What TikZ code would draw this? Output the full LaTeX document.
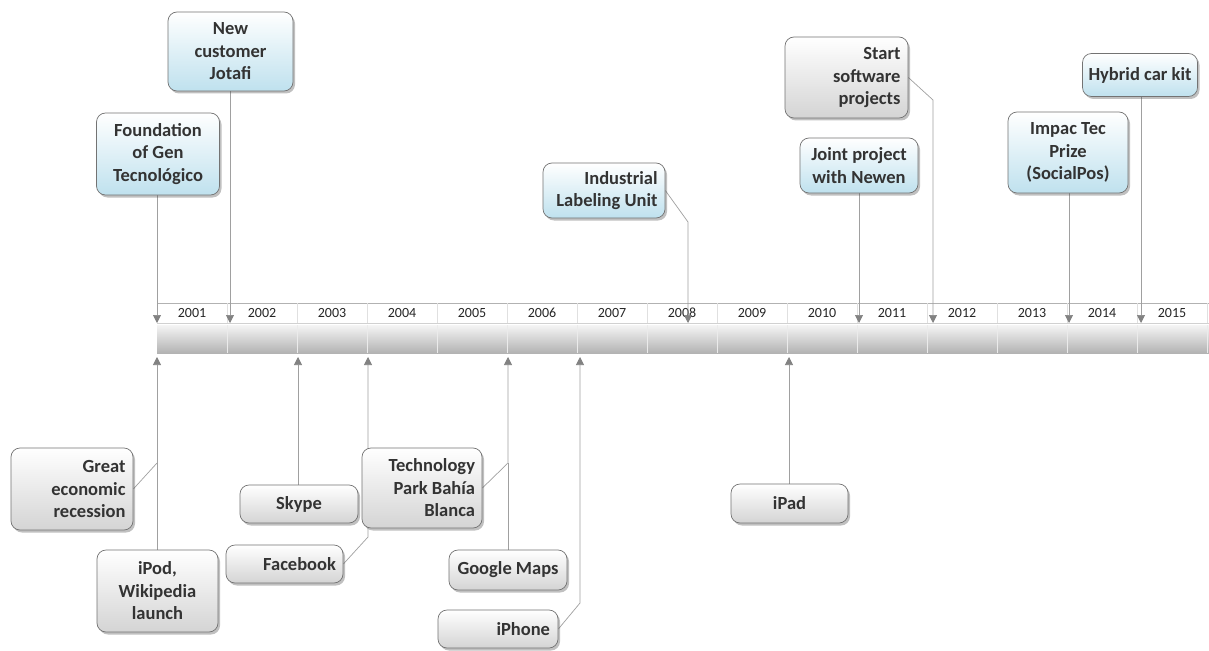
\documentclass[tikz,border=0pt]{standalone}
\usepackage{fontspec}
\setmainfont{Carlito}
\usetikzlibrary{shadows,arrows.meta,backgrounds}
\definecolor{boxblue}{HTML}{BFE1EE}
\definecolor{boxgrey}{HTML}{D4D4D4}
\definecolor{txt}{HTML}{333333}
\definecolor{linegrey}{HTML}{A0A0A0}
\definecolor{arrowgrey}{HTML}{828282}
\newcommand{\evfont}{\fontsize{18.5}{22.5}\selectfont\bfseries}
\newcommand{\yrfont}{\fontsize{14}{15}\selectfont}
\pgfdeclarelayer{mid}
\pgfsetlayers{background,mid,main}
\tikzset{
  evbox/.style={draw=black!55, line width=0.7pt, rounded corners=9pt, inner sep=0pt,
    font=\evfont, text=txt,
    drop shadow={shadow xshift=2pt, shadow yshift=-2.5pt, opacity=0.35, fill=black!70}},
  bluebox/.style={evbox, top color=white, bottom color=boxblue},
  greybox/.style={evbox, top color=white, bottom color=boxgrey},
  conn/.style={draw=linegrey, line width=0.7pt},
  tipped/.style={conn, -{Triangle[width=8pt,length=8pt,color=arrowgrey]}},
  yearlbl/.style={font=\yrfont, text=black!85, inner sep=0pt}
}
\begin{document}
\begin{tikzpicture}[x=1pt,y=-1pt]
\useasboundingbox (0,0) rectangle (1209,650);

% ---- timeline ----
\begin{pgfonlayer}{background}
\fill[white] (0,0) rectangle (1209,650);
\shade[top color=black!4, bottom color=black!30] (157,325) rectangle (1209,353);
\draw[black!30, line width=0.6pt] (157,303) -- (1209,303);
\draw[black!18, line width=0.6pt] (157,323) -- (1209,323);
\foreach \i in {1,...,15}{
  \draw[black!12, line width=0.6pt] (157+70*\i,303) -- (157+70*\i,323);
  \draw[white!92!black, line width=1pt] (157+70*\i,325) -- (157+70*\i,353);
}
\foreach \i in {0,...,14}{
  \pgfmathtruncatemacro{\yr}{2001+\i}
  \node[yearlbl] (y\i) at (192+70*\i,313) {\yr};
}
\end{pgfonlayer}

% ---- connector end points ----
\coordinate (tipFound) at (157,323);
\coordinate (tipJotafi) at (230,323);
\coordinate (bendInd) at (688,222);
\coordinate (tipInd) at (688,323);
\coordinate (bendStart) at (933,100);
\coordinate (tipStart) at (933,323);
\coordinate (tipJoint) at (859,323);
\coordinate (tipImpac) at (1069,323);
\coordinate (tipHybrid) at (1141,323);
\coordinate (tipIpod) at (157,357);
\coordinate (bendGreat) at (157,463);
\coordinate (tipSkype) at (298,357);
\coordinate (tipFb) at (368,357);
\coordinate (bendFb) at (368,537);
\coordinate (tipTech) at (508,357);
\coordinate (bendTech) at (508,463);
\coordinate (tipIphone) at (580,357);
\coordinate (bendIphone) at (580,603);
\coordinate (tipIpad) at (789,357);

% ---- boxes (top) ----
\node[bluebox, minimum width=125pt, minimum height=79pt, text width=119pt, align=flush center] (jotafi) at (230.5,51.5) {New\\customer\\Jotafi};
\node[bluebox, minimum width=123pt, minimum height=82pt, text width=117pt, align=flush center] (found) at (158,154) {Foundation\\of Gen\\Tecnológico};
\node[bluebox, minimum width=122pt, minimum height=55pt, text width=107pt, align=flush right] (indust) at (604,190.5) {Industrial\\Labeling Unit};
\node[greybox, minimum width=123pt, minimum height=81pt, text width=108pt, align=flush right] (start) at (846.5,77.5) {Start\\software\\projects};
\node[bluebox, minimum width=118pt, minimum height=55pt, text width=112pt, align=flush center] (joint) at (859,165.5) {Joint project\\with Newen};
\node[bluebox, minimum width=120pt, minimum height=81pt, text width=114pt, align=flush center] (impac) at (1068,152.5) {Impac Tec\\Prize\\(SocialPos)};
\node[bluebox, minimum width=115pt, minimum height=43pt, text width=112pt, align=flush center] (hybrid) at (1140,75) {Hybrid car kit};

% ---- boxes (bottom) ----
\node[greybox, minimum width=122pt, minimum height=82pt, text width=107pt, align=flush right] (great) at (72,489) {Great\\economic\\recession};
\node[greybox, minimum width=121pt, minimum height=82pt, text width=115pt, align=flush center] (ipod) at (157.5,591) {iPod,\\Wikipedia\\launch};
\node[greybox, minimum width=118pt, minimum height=38pt, text width=112pt, align=flush center] (skype) at (299,504) {Skype};
\node[greybox, minimum width=117pt, minimum height=38pt, text width=103pt, align=flush right] (fb) at (284.5,564) {Facebook};
\node[greybox, minimum width=120pt, minimum height=80pt, text width=106pt, align=flush right] (tech) at (422,488) {Technology\\Park Bahía\\Blanca};
\node[greybox, minimum width=118pt, minimum height=40pt, text width=112pt, align=flush center] (gmaps) at (508,570) {Google Maps};
\node[greybox, minimum width=120pt, minimum height=38pt, text width=104pt, align=flush right] (iphone) at (498,629) {iPhone};
\node[greybox, minimum width=117pt, minimum height=39pt, text width=111pt, align=flush center] (ipad) at (789.5,503.5) {iPad};

% ---- connectors (behind boxes) ----
\begin{pgfonlayer}{mid}
\draw[tipped] (tipFound |- found.south) -- (tipFound);
\draw[tipped] (tipJotafi |- jotafi.south) -- (tipJotafi);
\draw[tipped] (indust.east) -- (bendInd) -- (tipInd);
\draw[tipped] (start.east) -- (bendStart) -- (tipStart);
\draw[tipped] (tipJoint |- joint.south) -- (tipJoint);
\draw[tipped] (tipImpac |- impac.south) -- (tipImpac);
\draw[tipped] (tipHybrid |- hybrid.south) -- (tipHybrid);
\draw[conn] (great.east) -- (bendGreat);
\draw[tipped] (tipIpod |- ipod.north) -- (tipIpod);
\draw[tipped] (tipSkype |- skype.north) -- (tipSkype);
\draw[tipped] (fb.east) -- (bendFb) -- (tipFb);
\draw[tipped] (tech.east) -- (bendTech) -- (tipTech);
\draw[conn] (tipTech |- gmaps.north) -- (bendTech);
\draw[tipped] (iphone.east) -- (bendIphone) -- (tipIphone);
\draw[tipped] (tipIpad |- ipad.north) -- (tipIpad);
\end{pgfonlayer}
\end{tikzpicture}
\end{document}
